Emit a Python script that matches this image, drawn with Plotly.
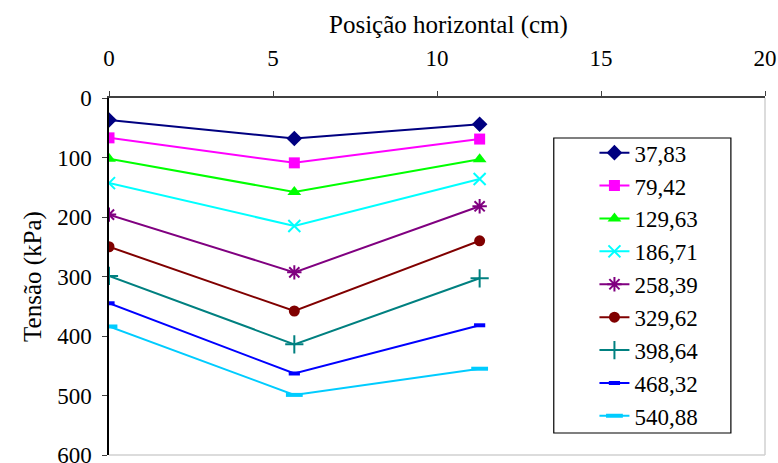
import plotly.graph_objects as go

positions = [0, 5.65, 11.3]
series_names = ["37,83", "79,42", "129,63", "186,71", "258,39", "329,62", "398,64", "468,32", "540,88"]
s1 = [37, 68, 44]
s2 = [67, 109, 69]
s3 = [102, 158, 103]
s4 = [143, 215, 136]
s5 = [196, 293, 182]
s6 = [250, 358, 240]
s7 = [299, 414, 303]
s8 = [345, 463, 382]
s9 = [384, 499, 455]
series_values = [s1, s2, s3, s4, s5, s6, s7, s8, s9]
x_ticks = [0, 5, 10, 15, 20]
y_ticks = [0, 100, 200, 300, 400, 500, 600]
x_title = "Posição horizontal (cm)"
y_title = "Tensão (kPa)"

colors = ["#000080", "#FF00FF", "#00FF00", "#00FFFF", "#800080", "#800000", "#008080", "#0000FF", "#00CCFF"]
symbols = ["diamond", "square", "triangle-up", "x-thin", "asterisk", "circle", "cross-thin", "line-ew", "line-ew"]
sizes = [12, 11, 12, 12, 12, 11, 13, 8, 12]
line_widths = [0, 0, 0, 2, 2, 0, 2, 4, 4]

fig = go.Figure()
for i, (name, vals) in enumerate(zip(series_names, series_values)):
    fig.add_trace(go.Scatter(
        x=positions, y=vals, name=name, mode="lines+markers",
        line=dict(color=colors[i], width=2),
        marker=dict(symbol=symbols[i], size=sizes[i], color=colors[i],
                    line=dict(color=colors[i], width=line_widths[i])),
    ))

font_family = "Liberation Serif"
fig.update_layout(
    width=778, height=463,
    margin=dict(l=109, r=13, t=98, b=8, autoexpand=False),
    paper_bgcolor="white", plot_bgcolor="white",
    font=dict(family=font_family, size=23, color="black"),
    showlegend=True,
    legend=dict(
        x=0.74, y=0.907, xanchor="left", yanchor="top",
        borderwidth=0, bgcolor="rgba(0,0,0,0)",
        font=dict(family=font_family, size=23, color="black"),
        tracegroupgap=0,
    ),
    xaxis=dict(
        side="top", range=[0, 20], tickvals=x_ticks,
        showgrid=False, zeroline=False, automargin=False,
        showline=True, linecolor="#404040", linewidth=1.5,
        ticks="outside", ticklen=5, tickcolor="#404040",
        ticklabelstandoff=16, ticklabeloverflow="allow",
        tickfont=dict(family=font_family, size=23),
    ),
    yaxis=dict(
        range=[600, 0], tickvals=y_ticks,
        showgrid=False, zeroline=False, automargin=False,
        showline=True, linecolor="black", linewidth=1.5,
        ticks="outside", ticklen=5, tickcolor="#404040",
        ticklabelstandoff=6, ticklabeloverflow="allow",
        tickfont=dict(family=font_family, size=23),
        title=dict(text=y_title, font=dict(family=font_family, size=25), standoff=8),
    ),
    annotations=[
        dict(text=x_title, xref="paper", yref="paper", x=0.518, y=1.204,
             xanchor="center", yanchor="middle", showarrow=False,
             font=dict(family=font_family, size=25, color="black")),
    ],
    shapes=[
        dict(type="line", xref="paper", yref="paper", x0=1, x1=1, y0=0, y1=1,
             line=dict(color="#D0D0D0", width=1.5)),
        dict(type="line", xref="paper", yref="paper", x0=0, x1=1, y0=0, y1=0,
             line=dict(color="#D0D0D0", width=1.5)),
        dict(type="rect", xref="paper", yref="paper", x0=0.678, x1=0.948, y0=0.0616, y1=0.888,
             line=dict(color="black", width=1.2), fillcolor="white", layer="below"),
    ],
)

fig.write_html("out.html", config={"displayModeBar": False},
               post_script="document.body.style.margin='0';")
